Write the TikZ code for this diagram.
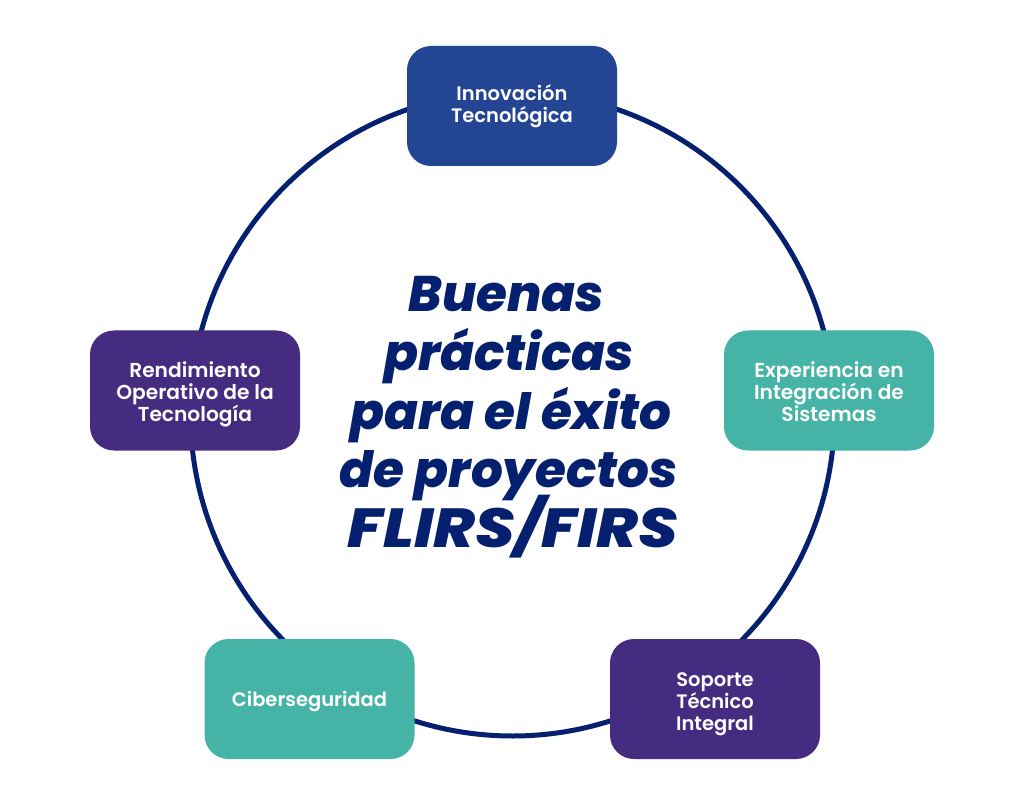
\documentclass[tikz,border=0pt]{standalone}
\usepackage{fontspec}
\setmainfont{Poppins}
\newfontfamily\boxfont{Poppins SemiBold}
\newfontfamily\titlefont{Poppins ExtraBold Italic}
\definecolor{navy}{HTML}{04206E}
\definecolor{blueb}{HTML}{244593}
\definecolor{teal}{HTML}{45B3A5}
\definecolor{purp}{HTML}{452C80}
\newlength{\pxu}\setlength{\pxu}{0.75pt}
\newcommand{\lowr}[1]{\rule{0pt}{#1\pxu}}
\tikzset{box/.style={draw=none,rounded corners=24\pxu,minimum width=210\pxu,minimum height=120\pxu,align=center,text=white,font=\fontsize{19.5\pxu}{22\pxu}\selectfont\boxfont,inner sep=0pt},
wide/.style={font=\fontsize{20.2\pxu}{22\pxu}\selectfont\boxfont}}
\begin{document}
\begin{tikzpicture}[x=0.75pt,y=-0.75pt]
\useasboundingbox (0,0) rectangle (1024,805);
\fill[white] (0,0) rectangle (1024,805);
\coordinate (c) at (512.5,414);
\draw[navy,line width=5\pxu] (c) circle [radius=322\pxu];
\node[box,fill=blueb] (a) at (512,106) {Innovación\\Tecnológica};
\node[box,wide,fill=teal] (b) at (829,390.5) {\lowr{19}Experiencia en\\Integración de\\Sistemas};
\node[box,fill=purp] (d) at (715,699) {\lowr{24.5}Soporte\\Técnico\\Integral};
\node[box,fill=teal] (e) at (309.5,699) {\lowr{20.5}Ciberseguridad};
\node[box,wide,fill=purp] (f) at (195,390.5) {\lowr{24.5}Rendimiento\\Operativo de la\\Tecnología};
\node[text=navy,font=\fontsize{50\pxu}{58.75\pxu}\selectfont\titlefont,align=center] (t) at (509,417.5) {Buenas\hspace*{5\pxu}\\prácticas\hspace*{7\pxu}\\\hspace*{4\pxu}para el éxito\\de proyectos\hspace*{6\pxu}\\[-7\pxu]\hspace*{8\pxu}\scalebox{1.26}[1.1]{FLIRS/FIRS}};
\end{tikzpicture}
\end{document}
